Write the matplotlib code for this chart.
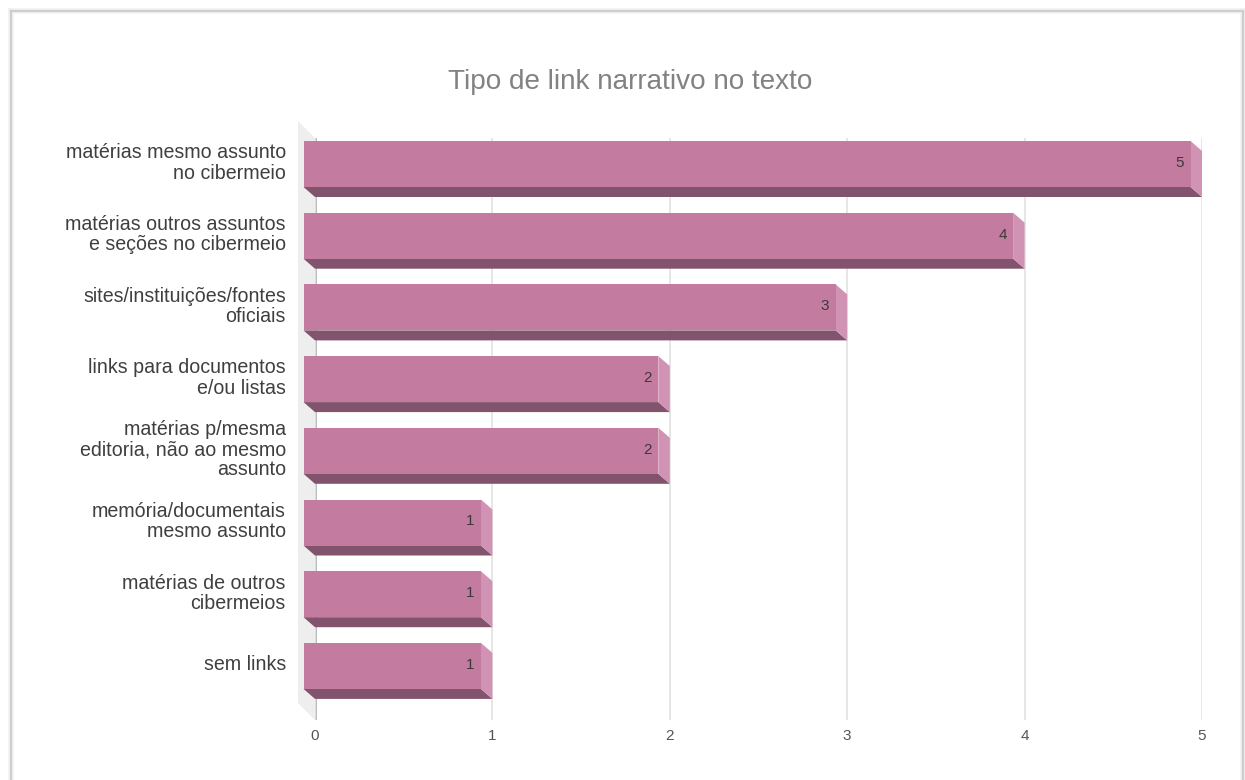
import matplotlib
matplotlib.use('Agg')
import matplotlib.pyplot as plt
from matplotlib.lines import Line2D

plt.rcParams['font.family'] = ['Liberation Sans', 'DejaVu Sans']

categories = [
    'matérias mesmo assunto\nno cibermeio',
    'matérias outros assuntos\ne seções no cibermeio',
    'sites/instituições/fontes\noficiais',
    'links para documentos\ne/ou listas',
    'matérias p/mesma\neditoria, não ao mesmo\nassunto',
    'memória/documentais\nmesmo assunto',
    'matérias de outros\ncibermeios',
    'sem links',
]
values = [5, 4, 3, 2, 2, 1, 1, 1]
x_ticks = [0, 1, 2, 3, 4, 5]

W, H = 1245, 780
FRONT = '#C47BA0'
BOTTOM = '#82536C'
SIDE = '#D093B3'

fig = plt.figure(figsize=(W / 100, H / 100), dpi=100)
ax = fig.add_axes([315 / W, 1 - 720 / H, (1202 - 315) / W, (720 - 138) / H])
ax.set_xlim(0, 5)
ax.set_ylim(7.615, -0.502)

# pixel sizes of the fake 3d depth, converted to data units
dx = 11.5 / 177.4
dy = 10 / 71.7
bar_h = 46 / 71.7

# back wall
wx = 17 / 177.4
wy = 17 / 71.7
y0, y1 = ax.get_ylim()[1], ax.get_ylim()[0]
ax.fill([0, -wx, -wx, 0], [y0, y0 - wy, y1 - wy, y1], color='#EEEEEE', clip_on=False, zorder=1, lw=0)

ax.set_xticks(x_ticks)
ax.grid(axis='x', color='#E4E4E4', lw=1.3, zorder=1)
ax.axvline(0, color='#A6A6A6', lw=1.8, zorder=1.5)

for i, v in enumerate(values):
    top = i - bar_h / 2
    bot = i + bar_h / 2
    # underside and right side first, then the front face
    ax.fill([-dx, 0, v, v - dx], [bot - dy, bot, bot, bot - dy], color=BOTTOM, lw=0, zorder=2, clip_on=False)
    ax.fill([v - dx, v, v, v - dx], [top - dy, top, bot, bot - dy], color=SIDE, lw=0, zorder=2, clip_on=False)
    ax.barh(i - dy, v, height=bar_h, left=-dx, color=FRONT, lw=0, zorder=3, clip_on=False)
    ax.text(v - 22 / 177.4, i - dy - 0.015, str(v), ha='center', va='center', fontsize=11, color='#3A3A3A', zorder=4)

ax.set_yticks([i - 0.19 for i in range(len(categories))])
ax.set_yticklabels(categories, fontsize=14.1, color='#3F3F3F', linespacing=1.08)
for lab in ax.get_yticklabels():
    lab.set_multialignment('right')
ax.tick_params(axis='y', length=0, pad=21)
ax.tick_params(axis='x', length=0, pad=6.5, labelsize=11, labelcolor='#555555')
for s in ax.spines.values():
    s.set_visible(False)

fig.text(630 / W, 1 - 82 / H, 'Tipo de link narrativo no texto', ha='center', va='center', fontsize=20.1, color='#828282')

# screenshot frame around the chart
for lw, c in [(4, '#F1F1F1'), (1.6, '#CDCDCD')]:
    fig.add_artist(Line2D([11 / W, 11 / W], [0, 1 - 11 / H], color=c, lw=lw))
    fig.add_artist(Line2D([11 / W, 1243 / W], [1 - 11 / H, 1 - 11 / H], color=c, lw=lw))
    fig.add_artist(Line2D([1243 / W, 1243 / W], [0, 1 - 11 / H], color=c, lw=lw))

fig.savefig('out.png', dpi=100)
